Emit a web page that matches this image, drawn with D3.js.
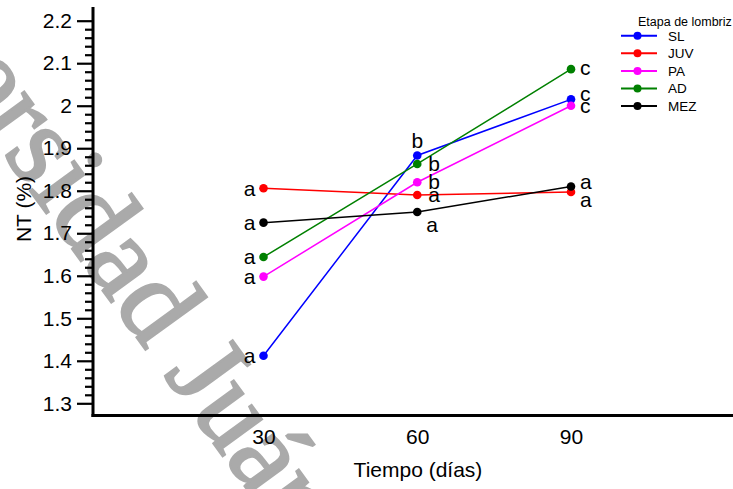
<!DOCTYPE html>
<html>
<head>
<meta charset="utf-8">
<script src="https://cdn.jsdelivr.net/npm/d3@7/dist/d3.min.js"></script>
<style>
  html, body { margin: 0; padding: 0; background: #fff; }
  svg { display: block; font-family: "Liberation Sans", Arial, sans-serif; }
</style>
</head>
<body>
<svg id="chart" width="733" height="489"></svg>
<script>
// ---- data ----
const days = [30, 60, 90];
const seriesNames = ["SL", "JUV", "PA", "AD", "MEZ"];
const SL  = [1.412, 1.883, 2.015];
const JUV = [1.806, 1.790, 1.797];
const PA  = [1.598, 1.820, 2.000];
const AD  = [1.644, 1.863, 2.086];
const MEZ = [1.725, 1.750, 1.810];
const lettersSL  = ["a", "b", "c"];
const lettersJUV = ["a", "a", "a"];
const lettersPA  = ["a", "b", "c"];
const lettersAD  = ["a", "b", "c"];
const lettersMEZ = ["a", "a", "a"];
const yTicks = [1.3, 1.4, 1.5, 1.6, 1.7, 1.8, 1.9, 2.0, 2.1, 2.2];
const yTickLabels = ["1.3", "1.4", "1.5", "1.6", "1.7", "1.8", "1.9", "2", "2.1", "2.2"];
const xTickLabels = ["30", "60", "90"];
const legendTitle = "Etapa de lombriz";
const xTitle = "Tiempo (días)";
const yTitle = "NT (%)";
const watermark = "Universidad Juárez Autónoma de Tabasco";

// ---- styles / layout ----
const colors = { SL: "#0000ff", JUV: "#ff0000", PA: "#ff00ff", AD: "#008000", MEZ: "#000000" };
// label offsets [dx, dy, anchor] per series per day
const labelPlace = {
  SL:  [[-8, 0, "end"], [0, -15, "middle"], [9, -6, "start"]],
  JUV: [[-8, 0, "end"], [11, 0, "start"], [9, 8, "start"]],
  PA:  [[-8, 0, "end"], [11, -1, "start"], [9, 0, "start"]],
  AD:  [[-8, 0, "end"], [11, 0, "start"], [9, -2, "start"]],
  MEZ: [[-8, 0, "end"], [9, 13, "start"], [9, -5, "start"]]
};

const values = { SL, JUV, PA, AD, MEZ };
const letters = { SL: lettersSL, JUV: lettersJUV, PA: lettersPA, AD: lettersAD, MEZ: lettersMEZ };

const svg = d3.select("#chart");
const W = 733, H = 489;
const axisX = 93, axisY = 415.5, axisTop = 7;

const x = d3.scaleLinear().domain([30, 90]).range([263.5, 571]);
const y = d3.scaleLinear().domain([1.3, 2.2]).range([403.3, 20.7]);

// watermark (beneath everything)
svg.append("text")
  .attr("transform", "translate(-187,-108) rotate(54)")
  .attr("font-family", "'Liberation Serif', 'Times New Roman', serif")
  .attr("font-size", 116)
  .attr("fill", "#aaaaaa")
  .attr("stroke", "#aaaaaa")
  .attr("stroke-width", 2.5)
  .text(watermark);

// y axis
const yAxis = d3.axisLeft(y)
  .tickValues(yTicks)
  .tickFormat((d, i) => yTickLabels[i])
  .tickSize(16)
  .tickSizeOuter(0)
  .tickPadding(5);
const gy = svg.append("g").attr("transform", `translate(${axisX},0)`).call(yAxis);
gy.select(".domain").remove();
gy.selectAll(".tick line").attr("stroke", "#000").attr("stroke-width", 2.2);
gy.selectAll(".tick text")
  .attr("font-size", 21)
  .attr("fill", "#000")
  .attr("font-family", "'Liberation Sans', Arial, sans-serif");

const minor = d3.range(0, 46).map(i => 1.3 + i * 0.02).filter(v => Math.abs((v * 10) - Math.round(v * 10)) > 1e-6);
const gym = svg.append("g").attr("transform", `translate(${axisX},0)`)
  .call(d3.axisLeft(y).tickValues(minor).tickSize(8).tickSizeOuter(0).tickFormat(""));
gym.select(".domain").remove();
gym.selectAll(".tick line").attr("stroke", "#000").attr("stroke-width", 2.2);

// axis lines
svg.append("line").attr("x1", axisX).attr("x2", axisX).attr("y1", axisTop).attr("y2", axisY + 1.5)
  .attr("stroke", "#000").attr("stroke-width", 3);
svg.append("line").attr("x1", axisX - 1.5).attr("x2", W).attr("y1", axisY).attr("y2", axisY)
  .attr("stroke", "#000").attr("stroke-width", 3);

// x axis labels
const xAxis = d3.axisBottom(x).tickValues(days).tickFormat((d, i) => xTickLabels[i]).tickSize(0).tickPadding(0);
const gx = svg.append("g").attr("transform", `translate(0,${axisY})`).call(xAxis);
gx.select(".domain").remove();
gx.selectAll(".tick text")
  .attr("font-size", 21)
  .attr("fill", "#000")
  .attr("dy", null)
  .attr("y", 28)
  .attr("font-family", "'Liberation Sans', Arial, sans-serif");

// titles
svg.append("text").attr("x", 418).attr("y", 477).attr("text-anchor", "middle")
  .attr("font-size", 21).text(xTitle);
svg.append("text").attr("transform", "translate(31,209) rotate(-90)").attr("text-anchor", "middle")
  .attr("font-size", 21).text(yTitle);

// series
const line = d3.line().x((d, i) => x(days[i])).y(d => y(d));
seriesNames.forEach(name => {
  const g = svg.append("g");
  g.append("path").datum(values[name]).attr("d", line)
    .attr("fill", "none").attr("stroke", colors[name]).attr("stroke-width", 1.5);
  g.selectAll("circle").data(values[name]).join("circle")
    .attr("cx", (d, i) => x(days[i])).attr("cy", d => y(d)).attr("r", 4.3)
    .attr("fill", colors[name]);
});
seriesNames.forEach(name => {
  svg.append("g").selectAll("text").data(values[name]).join("text")
    .attr("x", (d, i) => x(days[i]) + labelPlace[name][i][0])
    .attr("y", (d, i) => y(d) + labelPlace[name][i][1])
    .attr("dy", "0.35em")
    .attr("text-anchor", (d, i) => labelPlace[name][i][2])
    .attr("font-size", 21)
    .text((d, i) => letters[name][i]);
});

// legend
const lg = svg.append("g");
lg.append("text").attr("x", 638).attr("y", 26).attr("font-size", 12.5).text(legendTitle);
seriesNames.forEach((name, i) => {
  const cy = 35.7 + i * 17.6;
  lg.append("line").attr("x1", 621).attr("x2", 657).attr("y1", cy).attr("y2", cy)
    .attr("stroke", colors[name]).attr("stroke-width", 2);
  lg.append("circle").attr("cx", 637.5).attr("cy", cy).attr("r", 4).attr("fill", colors[name]);
  lg.append("text").attr("x", 668).attr("y", cy).attr("dy", "0.36em").attr("font-size", 13.5).text(name);
});
</script>
</body>
</html>
